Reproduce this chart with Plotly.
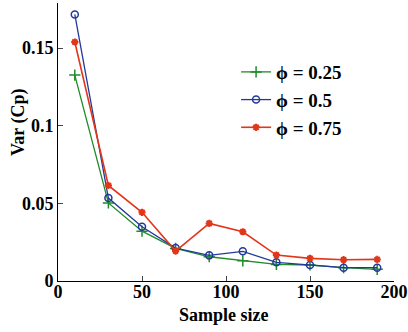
import plotly.graph_objects as go

sample_size = [10, 30, 50, 70, 90, 110, 130, 150, 170, 190]
var_025 = [0.1326, 0.0503, 0.0321, 0.0210, 0.0156, 0.0130, 0.0107, 0.0103, 0.0086, 0.0075]
var_050 = [0.1716, 0.0534, 0.0349, 0.0212, 0.0165, 0.0191, 0.0120, 0.0103, 0.0086, 0.0086]
var_075 = [0.1539, 0.0615, 0.0442, 0.0193, 0.0371, 0.0317, 0.0167, 0.0146, 0.0137, 0.0139]
names = ["\u03d5 = 0.25", "\u03d5 = 0.5", "\u03d5 = 0.75"]
x_ticks = [0, 50, 100, 150, 200]
y_ticks = [0, 0.05, 0.1, 0.15]
y_tick_labels = ["0", "0.05", "0.1", "0.15"]
x_title = "Sample size"
y_title = "Var (Cp)"

font_family = "Liberation Serif"

fig = go.Figure()
fig.add_trace(go.Scatter(x=sample_size, y=var_025, name=names[0], mode="lines+markers",
                         line=dict(color="#1e8c28", width=1.3),
                         marker=dict(symbol="cross-thin-open", size=8, line=dict(color="#1e8c28", width=1.5))))
fig.add_trace(go.Scatter(x=sample_size, y=var_050, name=names[1], mode="lines+markers",
                         line=dict(color="#23399a", width=1.3),
                         marker=dict(symbol="circle-open", size=7, line=dict(color="#23399a", width=1.5))))
fig.add_trace(go.Scatter(x=sample_size, y=var_075, name=names[2], mode="lines+markers",
                         line=dict(color="#e2361a", width=1.6),
                         marker=dict(symbol="asterisk-open", size=6, line=dict(color="#e2361a", width=2))))

fig.update_layout(
    width=408, height=332,
    margin=dict(l=58, r=14, t=3, b=51, autoexpand=False),
    paper_bgcolor="white", plot_bgcolor="white",
    font=dict(family=font_family, size=18, color="black"),
    showlegend=True,
    legend=dict(x=0.53, y=0.82, xanchor="left", yanchor="top",
                bgcolor="rgba(0,0,0,0)", font=dict(family=font_family, size=19, color="black", weight="bold"),
                tracegroupgap=0, itemwidth=30),
    xaxis=dict(range=[0, 200], tickvals=x_ticks, ticks="inside", ticklen=5,
               showline=True, linecolor="black", linewidth=1, showgrid=False, zeroline=False,
               ticklabelstandoff=-6,
               tickfont=dict(family=font_family, size=18, color="black", weight="bold")),
    yaxis=dict(range=[0, 0.179], tickvals=y_ticks, ticktext=y_tick_labels, ticks="inside", ticklen=5,
               showline=True, linecolor="black", linewidth=1, showgrid=False, zeroline=False,
               tickfont=dict(family=font_family, size=18, color="black", weight="bold")),
    annotations=[
        dict(text="<b>" + x_title + "</b>", xref="paper", yref="paper", x=0.4955, y=-0.122,
             xanchor="center", yanchor="middle", showarrow=False,
             font=dict(family=font_family, size=18, color="black")),
        dict(text="<b>" + y_title + "</b>", xref="paper", yref="paper", x=-0.116, y=0.572,
             xanchor="center", yanchor="middle", showarrow=False, textangle=-90,
             font=dict(family=font_family, size=18, color="black")),
    ],
)

fig.write_html("out.html", config={"displayModeBar": False},
               post_script="document.body.style.margin='0';document.body.style.overflow='hidden';")
